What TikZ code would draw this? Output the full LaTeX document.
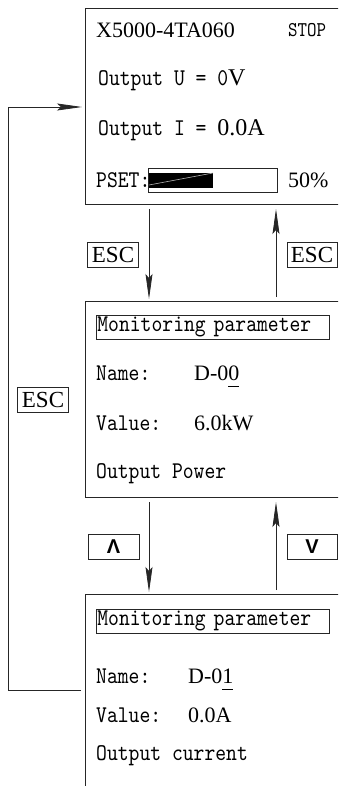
\documentclass[tikz,border=0pt]{standalone}
\usepackage{fontspec}
\setmainfont{Liberation Serif}
\newfontfamily\cnf[FakeStretch=0.86]{lmmono10-regular.otf}
\newfontfamily\sanb{Liberation Sans}
\usetikzlibrary{arrows.meta}
\newcommand\myul[1]{\setbox0\hbox{#1}\rlap{\vrule width\wd0 height -6pt depth 7pt}#1}
\begin{document}
\begin{tikzpicture}[x=1pt,y=-1pt,
  screen/.style={draw=black!85, line width=1pt, minimum width=300pt, anchor=north west, inner sep=0pt},
  key/.style={draw=black!85, line width=0.8pt, inner sep=0pt, minimum width=51pt, minimum height=25pt, font=\fontsize{23}{23}\selectfont},
  arrowkey/.style={key, font=\sanb\bfseries\fontsize{20}{20}\selectfont},
  titlebox/.style={draw=black!85, line width=0.8pt, anchor=north west, minimum height=24pt, text width=231pt, inner xsep=1pt, inner ysep=0pt, align=left, font=\cnf\fontsize{24}{24}\selectfont},
  mono/.style={anchor=base west, inner sep=0pt, font=\cnf\fontsize{24}{24}\selectfont},
  serif/.style={anchor=base west, inner sep=0pt, font=\fontsize{22}{22}\selectfont},
  conn/.style={draw=black!85, line width=0.8pt, -{Stealth[length=25pt,width=7pt,inset=4pt]}}
]
\clip (0,0) rectangle (338,786);
% screens
\node[screen, minimum height=196pt] (s1) at (85,8) {};
\node[screen, minimum height=196pt] (s2) at (85,301) {};
\node[screen, minimum height=230pt] (s3) at (85,594) {};
% screen 1 content
\node[serif] (t1) at (96,38) {X5000-4TA060};
\node[anchor=base west, inner sep=0pt, font=\cnf\fontsize{21}{21}\selectfont] (t2) at (288,37) {STOP};
\node[mono] (t3) at (98,86) {Output U = 0\textrm{V}};
\node[mono] (t4) at (98,136) {Output I = \textrm{0.0A}};
\node[mono] (t5) at (96,188) {PSET:};
\node[serif] (t6) at (288,188) {50\%};
\node[draw=black!85, line width=0.8pt, minimum width=129pt, minimum height=24pt, anchor=north west, inner sep=0pt] (bar) at (148,168) {};
\fill (149,173) rectangle (213,188);
\draw[gray!60, line width=0.6pt] (149,185) -- (213,173);
% screen 2 content
\node[titlebox] (m1) at (96,315) {Monitoring parameter};
\node[mono] (n1) at (96,380) {Name:};
\node[serif] (n1v) at (194,380) {D-0\myul{0}};
\node[mono] (v1) at (96,430) {Value:};
\node[serif] (v1v) at (194,430) {6.0kW};
\node[mono] (d1) at (96,478) {Output Power};
% screen 3 content
\node[titlebox] (m2) at (96,609) {Monitoring parameter};
\node[mono] (n2) at (96,683) {Name:};
\node[serif] (n2v) at (188,683) {D-0\myul{1}};
\node[mono] (v2) at (96,722) {Value:};
\node[serif] (v2v) at (188,722) {0.0A};
\node[mono] (d2) at (96,760) {Output current};
% keys
\node[key] (k1) at (113,254.5) {ESC};
\node[key, minimum width=50pt] (k2) at (312,254.5) {ESC};
\node[key] (k3) at (43,399.5) {ESC};
\node[arrowkey] (k4) at (113.5,546.5) {Λ};
\node[arrowkey, minimum width=50pt] (k5) at (312,546.5) {V};
% connectors
\coordinate (xa) at (149,0);
\coordinate (xb) at (276,0);
\draw[conn, shorten <=4pt, shorten >=2pt] (xa |- s1.south) -- (xa |- s2.north);
\draw[conn, shorten <=4pt, shorten >=4pt] (xb |- s2.north) -- (xb |- s1.south);
\draw[conn, shorten <=4pt, shorten >=2pt] (xa |- s2.south) -- (xa |- s3.north);
\draw[conn, shorten <=4pt, shorten >=4pt] (xb |- s3.north) -- (xb |- s2.south);
\coordinate (lb) at (8,690);
\coordinate (lt) at (8,107);
\draw[conn, shorten <=4pt, shorten >=3pt] (s3.west |- lb) -- (lb) -- (lt) -- (s1.west |- lt);
\end{tikzpicture}
\end{document}
